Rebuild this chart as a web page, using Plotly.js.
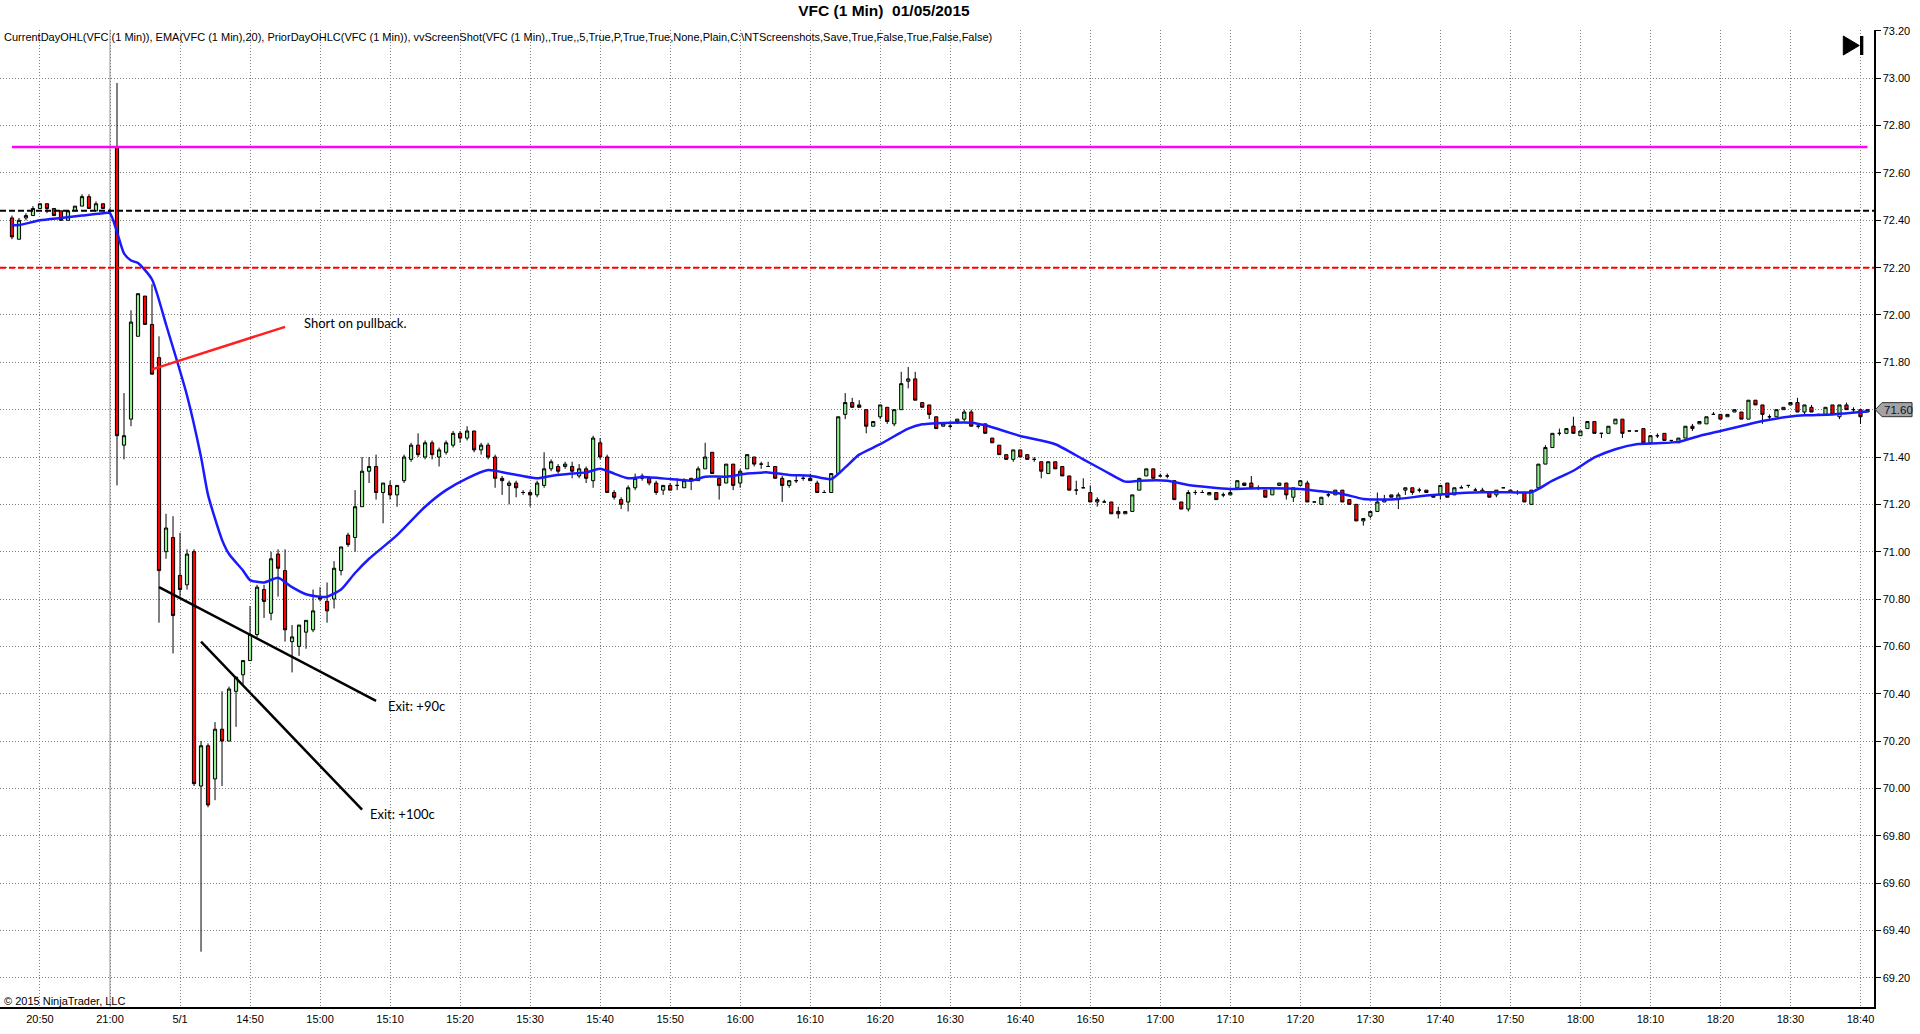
<!DOCTYPE html>
<html>
<head>
<meta charset="utf-8">
<script src="https://cdn.plot.ly/plotly-3.0.1.min.js"></script>
<style>
  html, body { margin: 0; padding: 0; background: #fff; }
  #chart { width: 1920px; height: 1034px; }
</style>
</head>
<body>
<div id="chart"></div>
<script>
// sessions shown on the chart (1 minute bars)
var sessions = [['20:46', '21:00'], ['14:31', '18:41']];

// x axis labels (every 10 bars)
var tickTimes = ['20:50','21:00','14:40','14:50','15:00','15:10','15:20','15:30','15:40','15:50','16:00','16:10','16:20','16:30','16:40','16:50','17:00','17:10','17:20','17:30','17:40','17:50','18:00','18:10','18:20','18:30','18:40'];
var tickLabels = ['20:50','21:00','5/1','14:50','15:00','15:10','15:20','15:30','15:40','15:50','16:00','16:10','16:20','16:30','16:40','16:50','17:00','17:10','17:20','17:30','17:40','17:50','18:00','18:10','18:20','18:30','18:40'];

// price axis labels
var priceTicks = [69.20,69.40,69.60,69.80,70.00,70.20,70.40,70.60,70.80,71.00,71.20,71.40,71.60,71.80,72.00,72.20,72.40,72.60,72.80,73.00,73.20];

var opens = [
  72.41,72.32,72.41,72.42,72.45,72.47,72.45,72.44,72.40,72.44,72.46,72.50,72.44,72.47,72.44,
  72.71,71.45,71.56,71.91,72.08,71.96,71.82,71.00,71.06,70.90,
  70.86,71.00,70.01,70.18,70.04,70.25,70.20,70.41,70.48,70.54,
  70.65,70.84,70.74,70.99,70.92,70.62,70.60,70.66,70.67,70.81,
  70.79,70.80,70.92,71.07,71.06,71.19,71.34,71.36,71.25,71.28,
  71.24,71.30,71.39,71.45,71.40,71.46,71.40,71.42,71.45,71.50,
  71.48,71.51,71.43,71.45,71.40,71.31,71.28,71.29,71.25,71.25,
  71.24,71.28,71.35,71.36,71.36,71.36,71.32,71.35,71.30,71.46,
  71.40,71.25,71.22,71.21,71.27,71.32,71.31,71.29,71.26,71.28,
  71.28,71.27,71.31,71.30,71.35,71.42,71.31,71.29,71.37,71.29,
  71.35,71.40,71.37,71.36,71.36,71.31,71.28,71.30,71.31,71.31,
  71.29,71.25,71.25,71.33,71.58,71.63,71.62,71.60,71.53,71.57,
  71.61,71.54,71.60,71.72,71.73,71.63,71.62,71.57,71.53,71.53,
  71.55,71.56,71.59,71.53,71.54,71.48,71.45,71.41,71.39,71.43,
  71.41,71.39,71.38,71.33,71.38,71.36,71.32,71.26,71.27,71.25,
  71.21,71.21,71.21,71.17,71.16,71.17,71.26,71.32,71.35,71.32,
  71.32,71.30,71.21,71.18,71.25,71.25,71.24,71.25,71.24,71.24,
  71.27,71.29,71.29,71.27,71.26,71.24,71.28,71.29,71.23,71.28,
  71.29,71.21,71.20,71.24,71.24,71.26,71.22,71.20,71.13,71.15,
  71.17,71.21,71.24,71.22,71.26,71.27,71.26,71.26,71.24,71.24,
  71.29,71.24,71.27,71.28,71.26,71.26,71.25,71.24,71.27,71.26,
  71.25,71.25,71.20,71.27,71.37,71.44,71.50,71.50,71.53,71.49,
  71.52,71.55,71.50,71.50,71.54,71.56,71.51,71.51,71.52,71.46,
  71.49,71.50,71.47,71.46,71.48,71.53,71.54,71.54,71.58,71.58,
  71.57,71.59,71.59,71.56,71.64,71.62,71.57,71.57,71.60,71.62,
  71.63,71.59,71.61,71.58,71.58,71.62,71.57,71.62,71.60,71.60,
  71.59
];
var highs = [
  72.42,72.41,72.43,72.46,72.47,72.47,72.45,72.44,72.44,72.46,72.51,72.51,72.48,72.47,72.45,
  72.98,71.67,72.02,72.09,72.08,72.13,71.91,71.16,71.15,71.08,
  71.01,71.01,70.20,70.19,70.28,70.41,70.43,70.47,70.54,70.77,
  70.86,70.86,71.00,71.01,71.01,70.69,70.69,70.71,70.84,70.85,
  70.87,70.96,71.02,71.08,71.26,71.40,71.40,71.41,71.29,71.30,
  71.28,71.41,71.46,71.50,71.47,71.47,71.44,71.47,71.51,71.51,
  71.53,71.51,71.46,71.46,71.41,71.32,71.30,71.30,71.26,71.26,
  71.30,71.42,71.39,71.37,71.38,71.38,71.37,71.36,71.49,71.48,
  71.41,71.26,71.23,71.28,71.33,71.33,71.32,71.30,71.28,71.29,
  71.31,71.31,71.31,71.36,71.46,71.42,71.31,71.37,71.37,71.35,
  71.41,71.40,71.38,71.38,71.36,71.32,71.30,71.32,71.32,71.33,
  71.30,71.26,71.33,71.57,71.67,71.65,71.64,71.60,71.55,71.62,
  71.61,71.60,71.76,71.78,71.76,71.63,71.62,71.57,71.54,71.55,
  71.56,71.60,71.60,71.54,71.54,71.48,71.45,71.41,71.43,71.43,
  71.41,71.40,71.38,71.38,71.38,71.36,71.32,71.30,71.31,71.28,
  71.23,71.22,71.21,71.19,71.17,71.24,71.31,71.35,71.35,71.33,
  71.33,71.30,71.21,71.26,71.26,71.26,71.25,71.25,71.25,71.27,
  71.30,71.29,71.32,71.28,71.26,71.27,71.29,71.29,71.27,71.30,
  71.30,71.21,71.23,71.25,71.26,71.26,71.22,71.20,71.14,71.17,
  71.25,71.24,71.24,71.25,71.27,71.27,71.27,71.26,71.24,71.28,
  71.29,71.27,71.28,71.28,71.27,71.27,71.25,71.26,71.27,71.26,
  71.26,71.25,71.26,71.37,71.45,71.50,71.52,71.52,71.57,71.51,
  71.55,71.55,71.50,71.53,71.56,71.56,71.51,71.51,71.52,71.49,
  71.50,71.50,71.47,71.48,71.53,71.54,71.55,71.57,71.59,71.58,
  71.58,71.60,71.59,71.64,71.64,71.62,71.58,71.60,71.61,71.63,
  71.65,71.62,71.62,71.58,71.61,71.62,71.62,71.63,71.61,71.60,
  71.60
];
var lows = [
  72.32,72.32,72.40,72.42,72.45,72.43,72.42,72.40,72.40,72.44,72.46,72.45,72.44,72.45,72.43,
  71.28,71.39,71.53,71.91,71.96,71.75,70.70,70.97,70.57,70.81,
  70.84,70.01,69.31,69.92,69.95,70.01,70.20,70.26,70.44,70.54,
  70.64,70.72,70.71,70.81,70.62,70.49,70.56,70.59,70.66,70.79,
  70.70,70.76,70.90,71.02,71.00,71.19,71.29,71.22,71.12,71.22,
  71.19,71.29,71.38,71.40,71.39,71.39,71.36,71.41,71.44,71.46,
  71.47,71.42,71.41,71.39,71.27,71.24,71.20,71.23,71.24,71.19,
  71.23,71.27,71.34,71.33,71.35,71.31,71.31,71.29,71.27,71.39,
  71.25,71.22,71.18,71.17,71.26,71.30,71.28,71.24,71.24,71.26,
  71.26,71.27,71.26,71.30,71.35,71.33,71.22,71.29,71.26,71.27,
  71.35,71.36,71.35,71.36,71.31,71.21,71.27,71.29,71.30,71.30,
  71.25,71.25,71.25,71.33,71.56,71.61,71.61,71.50,71.53,71.56,
  71.54,71.53,71.60,71.69,71.64,71.61,71.56,71.52,71.53,71.52,
  71.54,71.55,71.53,71.52,71.50,71.46,71.41,71.39,71.38,71.40,
  71.39,71.38,71.31,71.33,71.35,71.32,71.26,71.24,71.27,71.21,
  71.19,71.21,71.16,71.14,71.16,71.17,71.26,71.32,71.31,71.32,
  71.31,71.22,71.18,71.17,71.24,71.25,71.24,71.22,71.23,71.24,
  71.27,71.28,71.27,71.26,71.23,71.24,71.28,71.22,71.21,71.28,
  71.21,71.21,71.20,71.23,71.24,71.21,71.20,71.13,71.11,71.14,
  71.17,71.21,71.23,71.18,71.24,71.24,71.25,71.25,71.23,71.22,
  71.23,71.24,71.27,71.27,71.26,71.25,71.23,71.23,71.27,71.25,
  71.24,71.21,71.20,71.27,71.37,71.44,71.49,71.50,71.50,71.49,
  71.52,71.50,71.48,71.50,71.54,71.48,71.51,71.51,71.46,71.46,
  71.48,71.47,71.46,71.46,71.48,71.51,71.54,71.54,71.58,71.56,
  71.57,71.59,71.56,71.56,71.62,71.54,71.56,71.57,71.60,71.62,
  71.59,71.58,71.59,71.58,71.58,71.58,71.56,71.60,71.59,71.54,
  71.59
];
var closes = [
  72.33,72.40,72.42,72.45,72.47,72.45,72.42,72.40,72.44,72.46,72.50,72.45,72.47,72.45,72.44,
  71.49,71.49,71.97,72.09,71.96,71.75,70.92,71.10,70.73,70.84,
  70.99,70.02,70.18,69.93,70.25,70.20,70.42,70.47,70.54,70.65,
  70.85,70.79,70.97,70.93,70.67,70.64,70.69,70.71,70.75,70.80,
  70.75,70.93,71.02,71.03,71.19,71.34,71.36,71.25,71.29,71.24,
  71.28,71.40,71.45,71.41,71.46,71.41,71.43,71.46,71.50,71.48,
  71.51,71.43,71.45,71.40,71.31,71.30,71.29,71.27,71.25,71.24,
  71.29,71.35,71.38,71.34,71.37,71.34,71.35,71.31,71.48,71.40,
  71.25,71.23,71.20,71.27,71.31,71.31,71.29,71.25,71.28,71.26,
  71.28,71.30,71.30,71.35,71.40,71.33,71.28,71.37,71.28,71.34,
  71.41,71.37,71.37,71.36,71.31,71.28,71.30,71.30,71.31,71.30,
  71.25,71.25,71.33,71.57,71.63,71.61,71.61,71.53,71.55,71.62,
  71.55,71.60,71.71,71.73,71.64,71.61,71.58,71.52,71.54,71.53,
  71.56,71.59,71.53,71.53,71.50,71.46,71.41,71.39,71.43,71.40,
  71.39,71.39,71.34,71.38,71.35,71.32,71.26,71.26,71.27,71.21,
  71.22,71.21,71.16,71.16,71.17,71.24,71.31,71.35,71.31,71.32,
  71.32,71.22,71.18,71.25,71.25,71.25,71.25,71.22,71.24,71.25,
  71.30,71.28,71.27,71.27,71.23,71.27,71.29,71.24,71.27,71.30,
  71.21,71.21,71.23,71.24,71.26,71.21,71.20,71.13,71.14,71.17,
  71.21,71.22,71.23,71.24,71.27,71.25,71.26,71.25,71.23,71.28,
  71.23,71.27,71.27,71.28,71.26,71.25,71.23,71.26,71.27,71.25,
  71.25,71.21,71.26,71.37,71.44,71.50,71.50,71.52,71.50,71.51,
  71.55,71.50,71.50,71.53,71.56,71.50,71.51,71.51,71.46,71.49,
  71.49,71.47,71.47,71.48,71.53,71.52,71.55,71.57,71.58,71.56,
  71.58,71.60,71.56,71.64,71.62,71.58,71.57,71.60,71.61,71.63,
  71.59,71.62,71.59,71.58,71.61,71.58,71.62,71.60,71.60,71.57,
  71.60
];

// EMA(20)
var emaTimes = ['20:46','20:47','20:50','20:53','20:56','20:59','21:00','14:31','14:32','14:33','14:34','14:36','14:38','14:41','14:43','14:44','14:46','14:47','14:49','14:50',
  '14:52','14:54','14:56','14:58','15:00','15:01','15:03','15:05','15:07','15:11','15:15','15:18','15:21','15:24','15:27','15:31','15:33','15:36','15:38','15:40',
  '15:42','15:44','15:46','15:50','15:53','15:55','15:58','16:01','16:04','16:07','16:10','16:13','16:15','16:17','16:20','16:24','16:26','16:30','16:33','16:35',
  '16:40','16:45','16:49','16:52','16:55','16:57','17:01','17:04','17:10','17:14','17:20','17:23','17:26','17:29','17:32','17:34','17:38','17:41','17:46','17:50',
  '17:53','17:54','17:56','17:59','18:02','18:05','18:08','18:11','18:14','18:17','18:20','18:23','18:26','18:30','18:32','18:36','18:40','18:41'];
var emaValues = [72.38,72.38,72.40,72.41,72.42,72.43,72.43,72.35,72.26,72.23,72.22,72.15,71.96,71.66,71.40,71.24,71.05,70.99,70.92,70.88,
  70.87,70.89,70.85,70.82,70.81,70.81,70.84,70.91,70.97,71.07,71.19,71.26,71.31,71.345,71.33,71.31,71.32,71.33,71.335,71.35,
  71.33,71.31,71.315,71.307,71.30,71.317,71.317,71.33,71.335,71.324,71.321,71.307,71.356,71.41,71.454,71.52,71.538,71.545,71.545,71.534,
  71.489,71.454,71.39,71.342,71.296,71.30,71.30,71.282,71.265,71.268,71.265,71.255,71.244,71.223,71.22,71.223,71.237,71.244,71.251,71.251,
  71.251,71.265,71.30,71.342,71.398,71.433,71.454,71.458,71.464,71.489,71.51,71.531,71.552,71.571,71.576,71.58,71.59,71.592];

// price levels
var currentOpen = 72.71;
var priorClose = 72.44;
var priorLow = 72.20;
var lastPrice = 71.60;

// hand-drawn lines and notes (time, price)
var drawnLines = [
  {from: ['14:36', 71.77], to: ['14:55', 71.95], color: '#ff1f1f'},
  {from: ['14:37', 70.85], to: ['15:08', 70.37], color: '#000000'},
  {from: ['14:43', 70.62], to: ['15:06', 69.91], color: '#000000'}
];
var notes = [
  {at: ['14:58', 71.965], text: 'Short on pullback.', shift: -4},
  {at: ['15:10', 70.35], text: 'Exit: +90c', shift: -4},
  {at: ['15:07', 69.89], text: 'Exit: +100c', shift: -1}
];

var indicatorText = 'CurrentDayOHL(VFC (1 Min)), EMA(VFC (1 Min),20), PriorDayOHLC(VFC (1 Min)), vvScreenShot(VFC (1 Min),,True,,5,True,P,True,True,None,Plain,C:\\NTScreenshots,Save,True,False,True,False,False)';

function pad(n) { return (n < 10 ? '0' : '') + n; }

var times = [];
sessions.forEach(function(s) {
  var a = s[0].split(':'), b = s[1].split(':');
  var m = (+a[0]) * 60 + (+a[1]), end = (+b[0]) * 60 + (+b[1]);
  for (; m <= end; m++) times.push(pad(Math.floor(m / 60)) + ':' + pad(m % 60));
});
function at(t) { return times.indexOf(t); }
var pos = times.map(function(t, i) { return i; });

var yMin = 69.0764, yMax = 73.204;
var xMin = -1.71, xMax = 265.93;
function yPaper(p) { return (p - yMin) / (yMax - yMin); }

var candles = {
  type: 'candlestick',
  x: pos, open: opens, high: highs, low: lows, close: closes,
  increasing: {line: {color: '#000000', width: 1}, fillcolor: '#90ee90'},
  decreasing: {line: {color: '#000000', width: 1}, fillcolor: '#ff0000'},
  whiskerwidth: 0,
  hoverinfo: 'skip',
  showlegend: false
};

var ema = {
  type: 'scatter', mode: 'lines',
  x: emaTimes.map(at), y: emaValues,
  line: {color: '#1a1aff', width: 2.5, shape: 'spline', smoothing: 0.6},
  hoverinfo: 'skip', showlegend: false
};

var tagY = yPaper(lastPrice), tagH = 0.0072;
var shapes = [
  {type: 'line', layer: 'below', xref: 'x', yref: 'paper', x0: at('21:00'), x1: at('21:00'), y0: 0, y1: 1,
   line: {color: '#b8b8b8', width: 1.5}},
  {type: 'line', xref: 'paper', yref: 'y', x0: 0, x1: 1, y0: priorLow, y1: priorLow,
   line: {color: '#ff0000', width: 2, dash: '6px,3px'}},
  {type: 'line', xref: 'paper', yref: 'y', x0: 0, x1: 1, y0: priorClose, y1: priorClose,
   line: {color: '#000000', width: 2, dash: '6px,3px'}},
  {type: 'line', xref: 'x', yref: 'y', x0: pos[0], x1: pos[pos.length - 1], y0: currentOpen, y1: currentOpen,
   line: {color: '#ff00ff', width: 2.5}},
  // last price tag
  {type: 'path', xref: 'paper', yref: 'paper',
   path: 'M 1.0007,' + tagY + ' L 1.0043,' + (tagY + tagH) + ' L 1.0203,' + (tagY + tagH) +
         ' L 1.0203,' + (tagY - tagH) + ' L 1.0043,' + (tagY - tagH) + ' Z',
   fillcolor: '#a3a3a3', line: {color: '#303030', width: 1}},
  // go-to-end button
  {type: 'path', xref: 'paper', yref: 'paper', path: 'M 0.98362,0.99386 L 0.99216,0.98413 L 0.98362,0.97441 Z',
   fillcolor: '#000000', line: {color: '#000000', width: 1}},
  {type: 'rect', xref: 'paper', yref: 'paper', x0: 0.99253, x1: 0.99430, y0: 0.97441, y1: 0.99386,
   fillcolor: '#000000', line: {color: '#000000', width: 0}}
];
drawnLines.forEach(function(d) {
  shapes.push({type: 'line', xref: 'x', yref: 'y',
    x0: at(d.from[0]), y0: d.from[1], x1: at(d.to[0]), y1: d.to[1],
    line: {color: d.color, width: 2.5}});
});

var annotations = [
  {xref: 'paper', yref: 'paper', x: 0.0012, y: 0.99284, xanchor: 'left', yanchor: 'middle', showarrow: false,
   text: indicatorText, font: {family: 'Arial, Liberation Sans', size: 11, color: '#000'}},
  {xref: 'paper', yref: 'paper', x: 0.0012, y: 0.006, xanchor: 'left', yanchor: 'middle', showarrow: false,
   text: '\u00a9 2015 NinjaTrader, LLC', font: {family: 'Arial, Liberation Sans', size: 11, color: '#000'}},
  // the tag covers the axis label of the same price
  {xref: 'paper', yref: 'paper', x: 1.0042, y: tagY, xanchor: 'left', yanchor: 'middle', showarrow: false,
   text: lastPrice.toFixed(2), font: {family: 'Arial, Liberation Sans', size: 11.5, color: '#101030'}}
];
notes.forEach(function(n) {
  annotations.push({xref: 'x', yref: 'y', x: at(n.at[0]), y: n.at[1], xanchor: 'left', yanchor: 'middle',
    xshift: n.shift, showarrow: false, text: n.text, font: {family: 'Lato, Open Sans', size: 13, color: '#000'}});
});

var layout = {
  width: 1920, height: 1034,
  margin: {l: 0, r: 46, t: 30, b: 27},
  paper_bgcolor: '#ffffff', plot_bgcolor: '#ffffff',
  showlegend: false, hovermode: false, dragmode: false,
  boxgap: 0.35,
  title: {text: '<b>VFC (1 Min)\u00a0 01/05/2015</b>', x: 0.4604, xref: 'container', xanchor: 'center',
          y: 0.9894, yref: 'container', yanchor: 'middle',
          font: {family: 'Arial, Liberation Sans', size: 15.5, color: '#000'}},
  xaxis: {
    type: 'linear', range: [xMin, xMax], fixedrange: true,
    tickmode: 'array', tickvals: tickTimes.map(at), ticktext: tickLabels,
    showgrid: true, gridcolor: '#808080', gridwidth: 1, griddash: '1px,2px',
    showline: true, linecolor: '#000', linewidth: 1.5,
    ticks: '', ticklabelstandoff: 1, zeroline: false,
    tickfont: {family: 'Arial, Liberation Sans', size: 11, color: '#000'},
    rangeslider: {visible: false}
  },
  yaxis: {
    side: 'right', range: [yMin, yMax], fixedrange: true,
    tickmode: 'array', tickvals: priceTicks,
    ticktext: priceTicks.map(function(p) { return p === lastPrice ? '' : p.toFixed(2); }),
    showgrid: true, gridcolor: '#808080', gridwidth: 1, griddash: '1px,2px',
    showline: true, linecolor: '#000', linewidth: 1.5,
    ticks: 'outside', ticklen: 5, tickcolor: '#000', tickwidth: 1, zeroline: false,
    tickfont: {family: 'Arial, Liberation Sans', size: 11, color: '#000'}
  },
  shapes: shapes,
  annotations: annotations
};

Plotly.newPlot('chart', [candles, ema], layout, {displayModeBar: false, staticPlot: true});
</script>
</body>
</html>
